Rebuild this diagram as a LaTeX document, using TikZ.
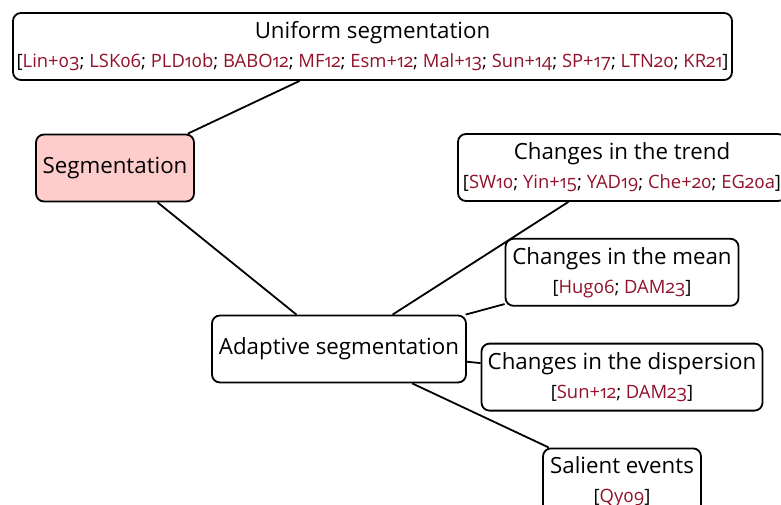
\documentclass[tikz,border=0pt]{standalone}
\usepackage{fontspec}
\setmainfont{Open Sans}[Numbers=OldStyle]
\usetikzlibrary{positioning}
\definecolor{citered}{RGB}{145,18,42}
\definecolor{segpink}{RGB}{255,204,204}
\newcommand{\cit}[1]{\textcolor{citered}{#1}}
\newcommand{\refs}[1]{{\fontsize{18.4}{22}\selectfont[#1]}}

\begin{document}
\begin{tikzpicture}[x=1pt, y=-1pt,
        TOPIC/.style={rectangle, rounded corners=8pt, draw=black, line width=1.8pt, minimum height=67pt, inner xsep=2pt, inner ysep=2pt, align=center, font=\fontsize{22.3}{29}\selectfont}, % one box of the tree
        ROOT/.style={TOPIC, fill=segpink},
        EDGE/.style={line width=1.8pt},
    ]
        \useasboundingbox (0,0) rectangle (781,504);
        %Nodes
        \node[ROOT, minimum width=158pt] (Seg) at (115,168) {Segmentation};
        \node[TOPIC, minimum width=719pt] (Uniform) at (372.5,46.5) {Uniform segmentation\\ \refs{\cit{Lin+03}; \cit{LSK06}; \cit{PLD10b}; \cit{BABO12}; \cit{MF12}; \cit{Esm+12}; \cit{Mal+13}; \cit{Sun+14}; \cit{SP+17}; \cit{LTN20}; \cit{KR21}}};
        \node[TOPIC, minimum width=254pt] (Adaptive) at (339,349) {Adaptive segmentation};
        \node[TOPIC, minimum width=328pt] (Trend) at (622,167.5) {Changes in the trend\\ \refs{\cit{SW10}; \cit{Yin+15}; \cit{YAD19}; \cit{Che+20}; \cit{EG20a}}};
        \node[TOPIC, minimum width=233pt] (Mean) [below=36pt of Trend] {Changes in the mean\\ \refs{\cit{Hug06}; \cit{DAM23}}};
        \node[TOPIC, minimum width=281pt] (Disp) [below=36pt of Mean] {Changes in the dispersion\\ \refs{\cit{Sun+12}; \cit{DAM23}}};
        \node[TOPIC, minimum width=158pt] (Salient) [below=36pt of Disp] {Salient events\\ \refs{\cit{Qy09}}};

        %Lines
        \draw[EDGE] (Seg) -- (Uniform);
        \draw[EDGE] (Seg) -- (Adaptive);
        \draw[EDGE] (Adaptive) -- (Trend);
        \draw[EDGE] (Adaptive) -- (Mean);
        \draw[EDGE] (Adaptive) -- (Disp);
        \draw[EDGE] (Adaptive) -- (Salient);
    \end{tikzpicture}
\end{document}
